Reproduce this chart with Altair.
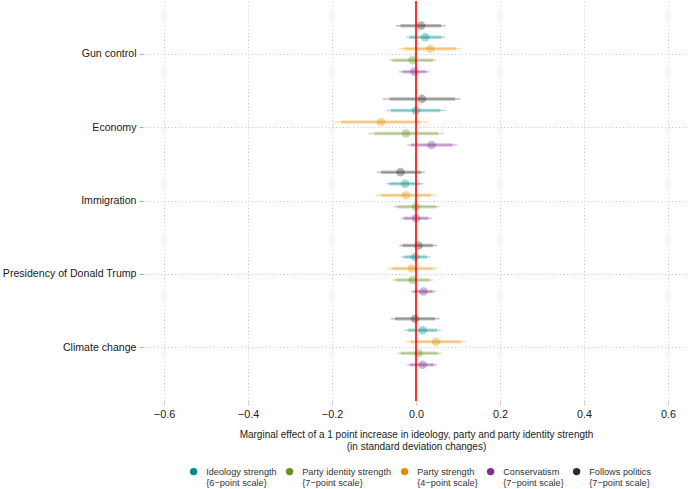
import altair as alt
import pandas as pd

categories = ["Gun control", "Economy", "Immigration", "Presidency of Donald Trump", "Climate change"]
series = [
    "Ideology strength\n{6−point scale}",
    "Party identity strength\n{7−point scale}",
    "Party strength\n{4−point scale}",
    "Conservatism\n{7−point scale}",
    "Follows politics\n{7−point scale}",
]
colors = ["#008b8b", "#6b8e23", "#e08e00", "#7e2f8e", "#2b2b2b"]
# vertical order of series inside each topic (top to bottom); last slot is empty
slot_order = [series[4], series[0], series[2], series[1], series[3], "(empty)"]

est = {
    series[0]: [0.022, 0.000, -0.026, -0.002, 0.016],
    series[1]: [-0.008, -0.024, 0.000, -0.008, 0.006],
    series[2]: [0.034, -0.083, -0.024, -0.010, 0.048],
    series[3]: [-0.004, 0.037, 0.000, 0.018, 0.016],
    series[4]: [0.012, 0.014, -0.037, 0.006, -0.002],
}
lo95 = {
    series[0]: [-0.024, -0.071, -0.071, -0.036, -0.028],
    series[1]: [-0.064, -0.114, -0.053, -0.056, -0.044],
    series[2]: [-0.040, -0.196, -0.095, -0.067, -0.024],
    series[3]: [-0.040, -0.021, -0.036, -0.012, -0.021],
    series[4]: [-0.048, -0.079, -0.093, -0.040, -0.060],
}
hi95 = {
    series[0]: [0.069, 0.071, 0.018, 0.034, 0.060],
    series[1]: [0.048, 0.067, 0.056, 0.040, 0.061],
    series[2]: [0.107, 0.029, 0.048, 0.050, 0.119],
    series[3]: [0.032, 0.098, 0.037, 0.048, 0.050],
    series[4]: [0.071, 0.106, 0.021, 0.050, 0.056],
}
lo90 = {
    series[0]: [-0.016, -0.060, -0.064, -0.028, -0.020],
    series[1]: [-0.056, -0.099, -0.044, -0.048, -0.036],
    series[2]: [-0.028, -0.179, -0.083, -0.056, -0.012],
    series[3]: [-0.032, -0.012, -0.029, -0.006, -0.014],
    series[4]: [-0.037, -0.063, -0.083, -0.032, -0.050],
}
hi90 = {
    series[0]: [0.060, 0.058, 0.010, 0.026, 0.050],
    series[1]: [0.040, 0.053, 0.048, 0.032, 0.052],
    series[2]: [0.095, 0.010, 0.036, 0.040, 0.107],
    series[3]: [0.024, 0.087, 0.029, 0.040, 0.042],
    series[4]: [0.060, 0.093, 0.012, 0.040, 0.045],
}
x_ticks = [-0.6, -0.4, -0.2, 0.0, 0.2, 0.4, 0.6]

rows = []
for s in series:
    for i, c in enumerate(categories):
        rows.append(dict(category=c, series=s, est=est[s][i], lo95=lo95[s][i],
                         hi95=hi95[s][i], lo90=lo90[s][i], hi90=hi90[s][i]))
df = pd.DataFrame(rows)

GRID = "#c4c4c4"

xscale = alt.Scale(domain=[-0.65, 0.65], nice=False, zero=False)
xaxis = alt.Axis(values=x_ticks, format=".1f", grid=True, gridDash=[1, 2.5], gridColor=GRID,
                 domain=False, ticks=True, tickColor="#aaaaaa", tickSize=4, tickDash=[1, 1.5],
                 labelFontSize=10.8, labelColor="#1a1a1a", labelPadding=3,
                 titleFontSize=10, titleFontWeight="normal", titleColor="#1a1a1a", titlePadding=11,
                 titleLineHeight=12,
                 title=["Marginal effect of a 1 point increase in ideology, party and party identity strength",
                        "(in standard deviation changes)"])

base = alt.Chart(df).encode(
    y=alt.Y("category:N", sort=categories, title=None,
            scale=alt.Scale(paddingInner=0, paddingOuter=0.23),
            axis=alt.Axis(grid=True, ticks=True, tickSize=4, tickColor="#aaaaaa",
                          labelFontSize=10.6, labelColor="#1a1a1a", labelPadding=3,
                          gridDash=[1, 2.5], gridColor=GRID, domain=False)),
    yOffset=alt.YOffset("series:N", scale=alt.Scale(domain=slot_order, paddingInner=0, paddingOuter=0.18)),
    color=alt.Color("series:N", scale=alt.Scale(domain=series, range=colors),
                    legend=alt.Legend(title=None, orient="none", direction="horizontal",
                                      legendX=46, legendY=466,
                                      labelExpr="split(datum.label, '\\n')",
                                      symbolType="circle", symbolSize=55, symbolOpacity=1,
                                      symbolStrokeWidth=0, labelFontSize=9.2,
                                      labelColor="#333333",
                                      labelLimit=300, columnPadding=8, labelOffset=8)),
)

thin = base.mark_rule(strokeWidth=1.6, opacity=0.3).encode(
    x=alt.X("lo95:Q", scale=xscale, axis=xaxis), x2="hi95:Q")
thick = base.mark_rule(strokeWidth=3.5, opacity=0.3).encode(
    x=alt.X("lo90:Q"), x2="hi90:Q")
pts = base.mark_circle(size=75, opacity=0.35).encode(x=alt.X("est:Q"))

zero = alt.Chart(pd.DataFrame({"z": [0.0]})).mark_rule(color="#ff0000", strokeWidth=1.6).encode(
    x=alt.X("z:Q"))

chart = alt.layer(thin, thick, pts, zero).properties(
    width=546, height=400,
    padding={"left": 2, "top": 0, "right": 0, "bottom": 0},
).configure(font="Liberation Sans").configure_view(stroke=None)

chart.save("out.html", embed_options={"renderer": "svg", "actions": False})
